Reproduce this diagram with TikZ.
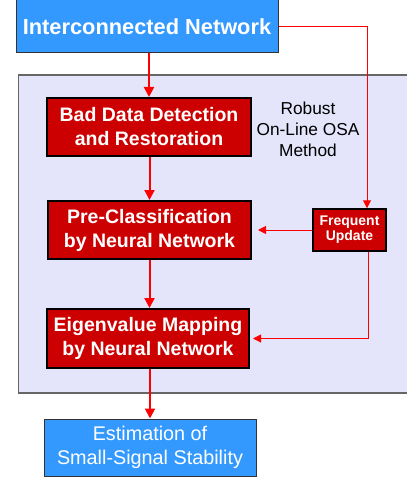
\documentclass[tikz,border=0pt]{standalone}
\usepackage{fontspec}
\setmainfont{Liberation Sans}
\usetikzlibrary{arrows.meta}
\definecolor{boxblue}{HTML}{3399FF}
\definecolor{boxred}{HTML}{CC0000}
\definecolor{panelfill}{HTML}{E4E4FA}
\definecolor{panelline}{HTML}{666666}
\definecolor{arrred}{HTML}{FF0000}
\begin{document}
\begin{tikzpicture}[x=1pt,y=-1pt,
  bluebox/.style={draw=black!80,line width=1pt,fill=boxblue,text=white,align=center,inner sep=0pt},
  redbox/.style={draw=black,line width=2pt,fill=boxred,text=white,align=center,inner sep=0pt,
    font=\fontsize{19.5}{24}\selectfont\bfseries},
  mainarr/.style={draw=arrred,line width=2pt,-{Triangle[length=10pt,width=10pt]}},
  thinarr/.style={draw=arrred,line width=1pt,-{Triangle[length=8pt,width=8pt]}}
]
\useasboundingbox (0,0) rectangle (406,478);
\fill[white] (0,0) rectangle (406,478);
% panel
\draw[fill=panelfill,draw=panelline,line width=1.2pt] (18.5,75) rectangle (412,393);
% nodes
\node[bluebox,minimum width=262pt,minimum height=53pt,font=\fontsize{21.8}{24}\selectfont\bfseries]
  (top) at (147,26.5) {Interconnected Network};
\node[redbox,minimum width=204pt,minimum height=58pt] (bad) at (149,127) {Bad Data Detection\\and Restoration};
\node[redbox,minimum width=203pt,minimum height=58pt] (pre) at (149.5,230) {Pre-Classification\\by Neural Network};
\node[redbox,minimum width=202pt,minimum height=59pt] (eig) at (148,338.5) {Eigenvalue Mapping\\by Neural Network};
\node[bluebox,minimum width=212pt,minimum height=57pt,font=\fontsize{19.8}{24}\selectfont]
  (est) at (150,447.5) {Estimation of\\Small-Signal Stability};
\node[redbox,line width=1.5pt,minimum width=73pt,minimum height=42pt,font=\fontsize{14}{15}\selectfont\bfseries]
  (fu) at (349.5,230) {Frequent\\Update};
\node[align=center,inner sep=0pt,font=\fontsize{17.3}{21}\selectfont] (rob) at (308,129)
  {Robust\\On-Line OSA\\Method};
% connectors
\draw[mainarr] (top.south -| bad.north) -- (bad.north);
\draw[mainarr] (bad.south -| pre.north) -- (pre.north);
\draw[mainarr] (pre.south) -- (pre.south |- eig.north);
\draw[mainarr] ([xshift=2pt]eig.south) -- ([xshift=2pt]eig.south |- est.north);
\draw[thinarr] (top.east) -| ([xshift=17.5pt]fu.north);
\draw[thinarr] (fu.west) -- ([xshift=6pt]pre.east);
\draw[thinarr] ([xshift=18.5pt]fu.south) |- ([xshift=3pt]eig.east);
\end{tikzpicture}
\end{document}
